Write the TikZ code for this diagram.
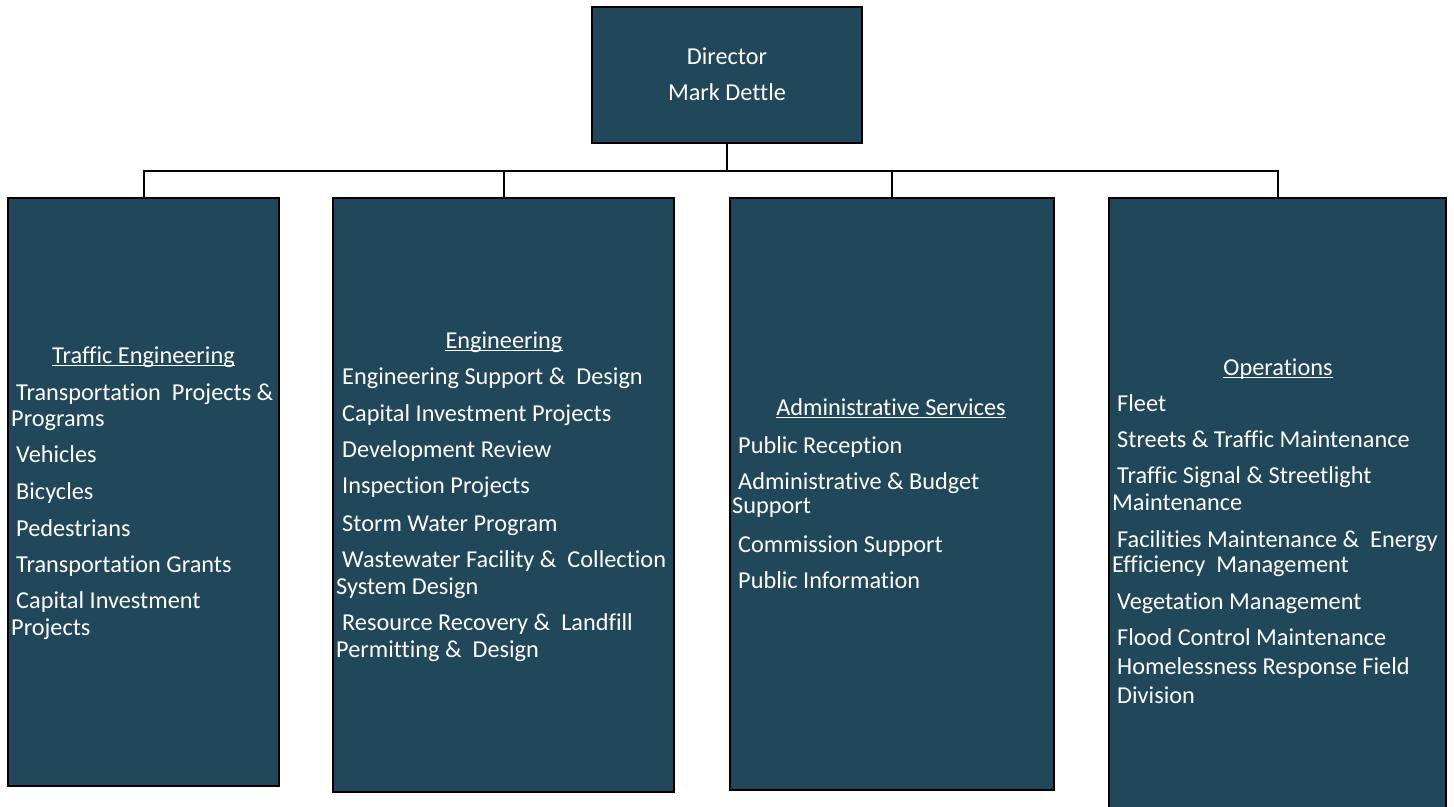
\documentclass[tikz,border=0pt]{standalone}
\usepackage{fontspec}
\setmainfont{Carlito}[Ligatures=CommonOff]
\definecolor{boxfill}{RGB}{33,71,91}
\begin{document}
\begin{tikzpicture}[x=1pt,y=-1pt,
  box/.style 2 args={draw=black, line width=2.5pt, fill=boxfill, inner sep=0pt, outer sep=0pt, minimum width=#1, minimum height=#2},
  txt/.style={anchor=base west, inner sep=0pt, text=white, font=\fontsize{24.3}{28}\selectfont},
  head/.style={anchor=base, inner sep=0pt, text=white, font=\fontsize{24.3}{28}\selectfont},
  uline/.style={white, line width=1.3pt},
  conn/.style={draw=black, line width=2pt}]
\useasboundingbox (0,0) rectangle (1454,806);
\clip (0,0) rectangle (1454,806);
\fill[white] (0,0) rectangle (1454,806);
% boxes
\node[box={270pt}{136pt}] (dir) at (727,75) {};
\node[box={271pt}{588pt}] (te) at (143.5,492) {};
\node[box={341pt}{594pt}] (eng) at (503.5,495) {};
\node[box={324pt}{592pt}] (adm) at (892,494) {};
\node[box={337pt}{614pt}] (ops) at (1277.5,505) {};
% connectors
\coordinate (bus) at (727,171);
\draw[conn] (dir.south) -- (bus);
\draw[conn] (te.north) |- (bus) -| (ops.north);
\draw[conn] (eng.north) -- (eng.north |- bus);
\draw[conn] (adm.north) -- (adm.north |- bus);
% director
\node[head] (d1) at (727,64) {Director};
\node[head] (d2) at (727,100) {Mark Dettle};
% traffic engineering
\node[head] (h1) at (143.5,363) {Traffic Engineering};
\draw[uline] ([yshift=-2.5pt]h1.base west) -- ([yshift=-2.5pt]h1.base east);
\node[txt] (t1) at (16,400) {Transportation\ \ Projects \&};
\node[txt] (t2) at (11,426) {Programs};
\node[txt] (t3) at (16,462) {Vehicles};
\node[txt] (t4) at (16,499) {Bicycles};
\node[txt] (t5) at (16,536) {Pedestrians};
\node[txt] (t6) at (16,572) {Transportation Grants};
\node[txt] (t7) at (16,608) {Capital Investment};
\node[txt] (t8) at (11,635) {Projects};
% engineering
\node[head] (h2) at (504,348) {Engineering};
\draw[uline] ([yshift=-2.5pt]h2.base west) -- ([yshift=-2.5pt]h2.base east);
\node[txt] (e1) at (342,384) {Engineering Support \&\ \ Design};
\node[txt] (e2) at (342,421) {Capital Investment Projects};
\node[txt] (e3) at (342,457) {Development Review};
\node[txt] (e4) at (342,493) {Inspection Projects};
\node[txt] (e5) at (342,531) {Storm Water Program};
\node[txt] (e6) at (342,567) {Wastewater Facility \&\ \ Collection};
\node[txt] (e7) at (336,594) {System Design};
\node[txt] (e8) at (342,630) {Resource Recovery \&\ \ Landfill};
\node[txt] (e9) at (336,657) {Permitting \&\ \ Design};
% administrative services
\node[head] (h3) at (891,415) {Administrative Services};
\draw[uline] ([yshift=-2.5pt]h3.base west) -- ([yshift=-2.5pt]h3.base east);
\node[txt] (a1) at (738,453) {Public Reception};
\node[txt] (a2) at (738,489) {Administrative \& Budget};
\node[txt] (a3) at (732,513) {Support};
\node[txt] (a4) at (738,552) {Commission Support};
\node[txt] (a5) at (738,588) {Public Information};
% operations
\node[head] (h4) at (1278,375) {Operations};
\draw[uline] ([yshift=-2.5pt]h4.base west) -- ([yshift=-2.5pt]h4.base east);
\node[txt] (o1) at (1117,411) {Fleet};
\node[txt] (o2) at (1117,447) {Streets \& Traffic Maintenance};
\node[txt] (o3) at (1117,483) {Traffic Signal \& Streetlight};
\node[txt] (o4) at (1112,510) {Maintenance};
\node[txt] (o5) at (1117,547) {Facilities Maintenance \&\ \ Energy};
\node[txt] (o6) at (1112,572) {Efficiency\ \ Management};
\node[txt] (o7) at (1117,609) {Vegetation Management};
\node[txt] (o8) at (1117,645) {Flood Control Maintenance};
\node[txt] (o9) at (1117,674) {Homelessness Response Field};
\node[txt] (o10) at (1117,703) {Division};
\end{tikzpicture}
\end{document}
